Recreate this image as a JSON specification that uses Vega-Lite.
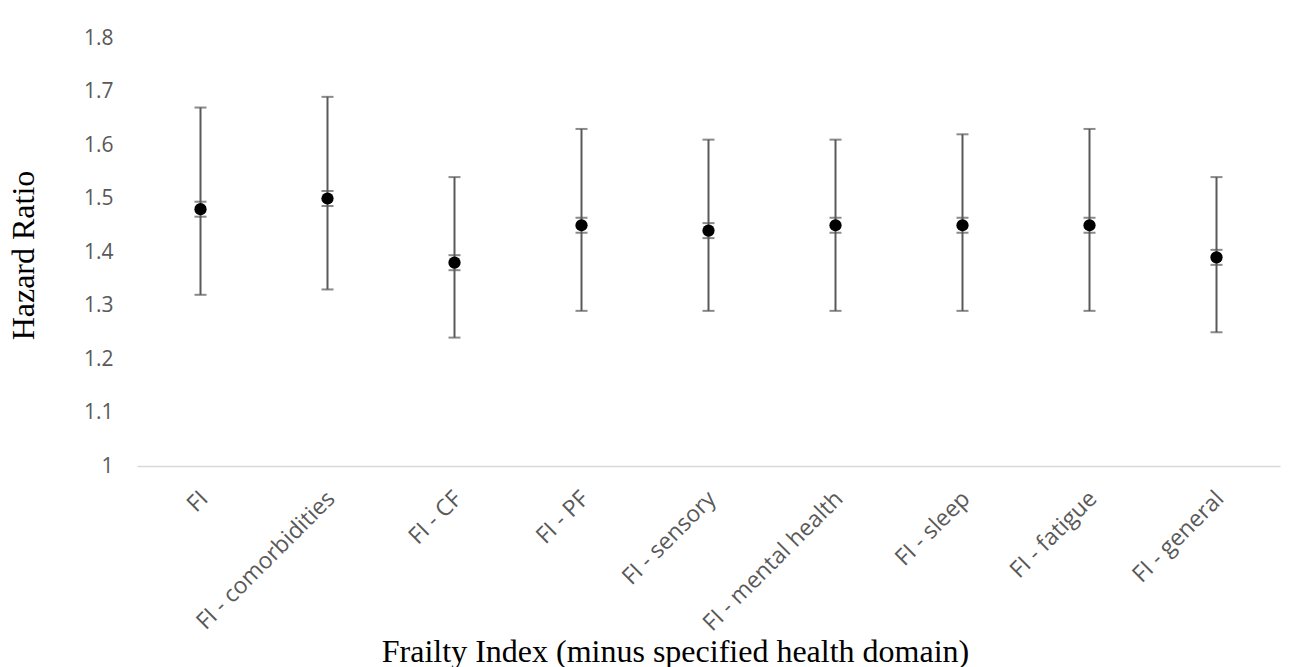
{
  "$schema": "https://vega.github.io/schema/vega-lite/v6.json",
  "autosize": "none",
  "width": 1143,
  "height": 428,
  "padding": {"left": 137, "top": 38, "right": 18, "bottom": 201},
  "background": "white",
  "config": {"view": {"stroke": null}},
  "data": {
    "values": [
      {"domain": "FI", "hr": 1.48, "low": 1.32, "high": 1.67},
      {"domain": "FI - comorbidities", "hr": 1.50, "low": 1.33, "high": 1.69},
      {"domain": "FI - CF", "hr": 1.38, "low": 1.24, "high": 1.54},
      {"domain": "FI - PF", "hr": 1.45, "low": 1.29, "high": 1.63},
      {"domain": "FI - sensory", "hr": 1.44, "low": 1.29, "high": 1.61},
      {"domain": "FI - mental health", "hr": 1.45, "low": 1.29, "high": 1.61},
      {"domain": "FI - sleep", "hr": 1.45, "low": 1.29, "high": 1.62},
      {"domain": "FI - fatigue", "hr": 1.45, "low": 1.29, "high": 1.63},
      {"domain": "FI - general", "hr": 1.39, "low": 1.25, "high": 1.54}
    ]
  },
  "encoding": {
    "x": {
      "field": "domain",
      "type": "nominal",
      "sort": null,
      "scale": {"paddingInner": 0, "paddingOuter": 0},
      "axis": {
        "title": "Frailty Index (minus specified health domain)",
        "titleFont": "Liberation Serif",
        "titleFontSize": 32,
        "titleFontWeight": "normal",
        "titleColor": "#000000",
        "titleX": 538,
        "titleY": 195,
        "titleAlign": "center",
        "titleBaseline": "alphabetic",
        "labelAngle": -45,
        "labelFont": "Open Sans",
        "labelFontSize": 23,
        "labelColor": "#595959",
        "labelPadding": 21,
        "labelOffset": -4,
        "labelLimit": 400,
        "ticks": false,
        "domainColor": "#d9d9d9",
        "domainWidth": 1.5,
        "grid": false
      }
    }
  },
  "layer": [
    {
      "mark": {"type": "rule", "color": "#595959", "strokeWidth": 2},
      "encoding": {
        "y": {
          "field": "low",
          "type": "quantitative",
          "scale": {"domain": [1, 1.8], "nice": false, "zero": false},
          "axis": {
            "title": "Hazard Ratio",
            "titleFont": "Liberation Serif",
            "titleFontSize": 32,
            "titleFontWeight": "normal",
            "titleColor": "#000000",
            "titleAngle": -90,
            "titleX": -104,
            "titleY": 217,
            "titleAlign": "center",
            "titleBaseline": "alphabetic",
            "values": [1, 1.1, 1.2, 1.3, 1.4, 1.5, 1.6, 1.7, 1.8],
            "format": ".1~f",
            "labelFont": "Open Sans",
            "labelFontSize": 21,
            "labelColor": "#595959",
            "labelPadding": 24,
            "ticks": false,
            "domain": false,
            "grid": false
          }
        },
        "y2": {"field": "high"}
      }
    },
    {
      "mark": {"type": "tick", "orient": "horizontal", "color": "#595959", "size": 12, "thickness": 2},
      "encoding": {"y": {"field": "low", "type": "quantitative"}}
    },
    {
      "mark": {"type": "tick", "orient": "horizontal", "color": "#595959", "size": 12, "thickness": 2},
      "encoding": {"y": {"field": "high", "type": "quantitative"}}
    },
    {
      "mark": {"type": "tick", "orient": "horizontal", "color": "#595959", "size": 12, "thickness": 2, "yOffset": -7.5},
      "encoding": {"y": {"field": "hr", "type": "quantitative"}}
    },
    {
      "mark": {"type": "tick", "orient": "horizontal", "color": "#595959", "size": 12, "thickness": 2, "yOffset": 7.5},
      "encoding": {"y": {"field": "hr", "type": "quantitative"}}
    },
    {
      "mark": {"type": "point", "filled": true, "color": "#000000", "opacity": 1, "size": 150, "shape": "circle"},
      "encoding": {"y": {"field": "hr", "type": "quantitative"}}
    }
  ]
}
